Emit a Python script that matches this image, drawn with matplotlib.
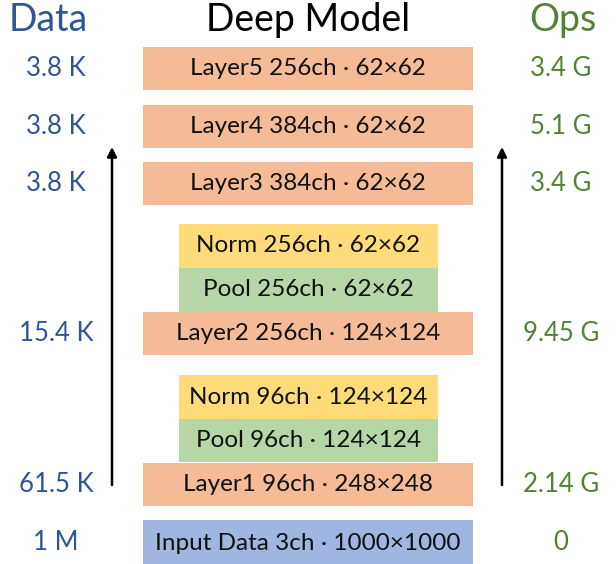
import matplotlib.pyplot as plt
from matplotlib.patches import Rectangle

plt.rcParams['font.family'] = ['Lato', 'DejaVu Sans']

# rows top to bottom
names = ['Layer5', 'Layer4', 'Layer3', 'Norm', 'Pool', 'Layer2',
         'Norm', 'Pool', 'Layer1', 'Input Data']
channels = ['256ch', '384ch', '384ch', '256ch', '256ch', '256ch',
            '96ch', '96ch', '96ch', '3ch']
sizes = ['62×62', '62×62', '62×62', '62×62', '62×62', '124×124',
         '124×124', '124×124', '248×248', '1000×1000']
kinds = ['layer', 'layer', 'layer', 'norm', 'pool', 'layer',
         'norm', 'pool', 'layer', 'input']
data_vals = ['3.8 K', '3.8 K', '3.8 K', '', '', '15.4 K', '', '', '61.5 K', '1 M']
ops_vals = ['3.4 G', '5.1 G', '3.4 G', '', '', '9.45 G', '', '', '2.14 G', '0']

# layout (pixels)
tops = [47, 105, 162, 224, 268, 312, 375, 419, 463, 520]
heights = [43, 43, 43, 44, 44, 43, 44, 43, 43, 46]
colors = {'layer': '#F5BB96', 'norm': '#FFDB7A', 'pool': '#B7D6A5', 'input': '#A0B6E0'}
wide = (143, 473)
narrow = (179, 438)

blue = '#2F5597'
green = '#548235'

fig = plt.figure(figsize=(6.16, 5.64), dpi=100)
ax = fig.add_axes([0, 0, 1, 1])
ax.set_xlim(0, 616)
ax.set_ylim(564, 0)
ax.axis('off')

for i in range(len(names)):
    x0, x1 = narrow if kinds[i] in ('norm', 'pool') else wide
    ax.add_patch(Rectangle((x0, tops[i]), x1 - x0, heights[i],
                           facecolor=colors[kinds[i]], edgecolor='none'))
    yc = tops[i] + heights[i] / 2
    ax.text((x0 + x1) / 2, yc, f'{names[i]} {channels[i]} · {sizes[i]}',
            ha='center', va='center', fontsize=17.5, color='#111111')
    if data_vals[i]:
        ax.text(56, yc, data_vals[i], ha='center', va='center', fontsize=18.5, color=blue)
    if ops_vals[i]:
        ax.text(561, yc, ops_vals[i], ha='center', va='center', fontsize=18.5, color=green)

# headers
ax.text(48, 20, 'Data', ha='center', va='center', fontsize=27, color=blue)
ax.text(308, 20, 'Deep Model', ha='center', va='center', fontsize=27, color='black')
ax.text(563, 20, 'Ops', ha='center', va='center', fontsize=27, color=green)

# arrows
for xa in (112, 502):
    ax.annotate('', xy=(xa, 147), xytext=(xa, 485),
                arrowprops=dict(arrowstyle='-|>', color='black', lw=1.8,
                                mutation_scale=14, shrinkA=0, shrinkB=0))

fig.savefig('out.png', dpi=100)
